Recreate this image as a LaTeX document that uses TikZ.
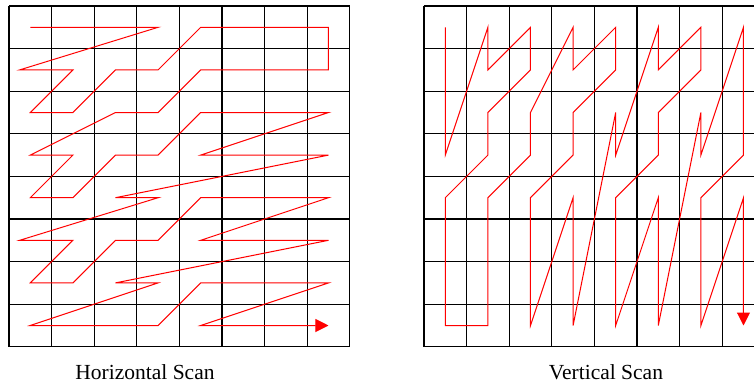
\documentclass[tikz,border=0pt]{standalone}
\usepackage{fontspec}
\setmainfont{Liberation Serif}
\usetikzlibrary{arrows.meta}

\tikzset{
  gridline/.style={draw=black,line width=0.6pt},
  scanline/.style={draw=red,line width=0.5pt,line join=miter},
  scantip/.style={-{Triangle[length=6.5pt,width=6.5pt]}},
  caption/.style={anchor=base,font=\fontsize{10.75}{13}\selectfont,inner sep=0pt}
}

\begin{document}
\begin{tikzpicture}[x=21.3pt,y=-21.3pt]
\useasboundingbox (0,0) rectangle (17.700,9.061);
% horizontal scan
\begin{scope}[shift={(0.211,0.141)}]
\foreach \i in {0,...,8} {
  \draw[gridline] (\i,0) -- (\i,8);
  \draw[gridline] (0,\i) -- (8,\i);
}
\draw[scanline,scantip] (0.5,0.5) -- (3.5,0.5) -- (0.25,1.5) -- (1.5,1.5) -- (0.5,2.5) -- (1.5,2.5)
  -- (2.5,1.5) -- (3.5,1.5) -- (4.5,0.5) -- (7.5,0.5) -- (7.5,1.5) -- (4.5,1.5) -- (3.5,2.5)
  -- (2.5,2.5) -- (0.5,3.5) -- (1.5,3.5) -- (0.5,4.5) -- (1.5,4.5) -- (2.5,3.5) -- (3.5,3.5)
  -- (4.5,2.5) -- (7.5,2.5) -- (4.5,3.5) -- (7.5,3.5) -- (2.5,4.5) -- (3.5,4.5) -- (0.25,5.5)
  -- (1.5,5.5) -- (0.5,6.5) -- (1.5,6.5) -- (2.5,5.5) -- (3.5,5.5) -- (4.5,4.5) -- (7.5,4.5)
  -- (4.5,5.5) -- (7.5,5.5) -- (2.5,6.5) -- (3.5,6.5) -- (0.5,7.5) -- (3.5,7.5) -- (4.5,6.5)
  -- (7.5,6.5) -- (4.5,7.5) -- (7.5,7.5);
\end{scope}
% vertical scan
\begin{scope}[shift={(9.953,0.141)}]
\foreach \i in {0,...,8} {
  \draw[gridline] (\i,0) -- (\i,8);
  \draw[gridline] (0,\i) -- (8,\i);
}
\draw[scanline,scantip] (0.5,0.5) -- (0.5,3.5) -- (1.5,0.5) -- (1.5,1.5) -- (2.5,0.5) -- (2.5,1.5)
  -- (1.5,2.5) -- (1.5,3.5) -- (0.5,4.5) -- (0.5,7.5) -- (1.5,7.5) -- (1.5,4.5) -- (2.5,3.5)
  -- (2.5,2.5) -- (3.5,0.5) -- (3.5,1.5) -- (4.5,0.5) -- (4.5,1.5) -- (3.5,2.5) -- (3.5,3.5)
  -- (2.5,4.5) -- (2.5,7.5) -- (3.5,4.5) -- (3.5,7.5) -- (4.5,2.5) -- (4.5,3.5) -- (5.5,0.5)
  -- (5.5,1.5) -- (6.5,0.5) -- (6.5,1.5) -- (5.5,2.5) -- (5.5,3.5) -- (4.5,4.5) -- (4.5,7.5)
  -- (5.5,4.5) -- (5.5,7.5) -- (6.5,2.5) -- (6.5,3.5) -- (7.5,0.5) -- (7.5,3.5) -- (6.5,4.5)
  -- (6.5,7.5) -- (7.5,4.5) -- (7.5,7.5);
\end{scope}
\node[caption] (hcap) at (3.404,8.897) {Horizontal Scan};
\node[caption] (vcap) at (14.225,8.897) {Vertical Scan};
\end{tikzpicture}
\end{document}
